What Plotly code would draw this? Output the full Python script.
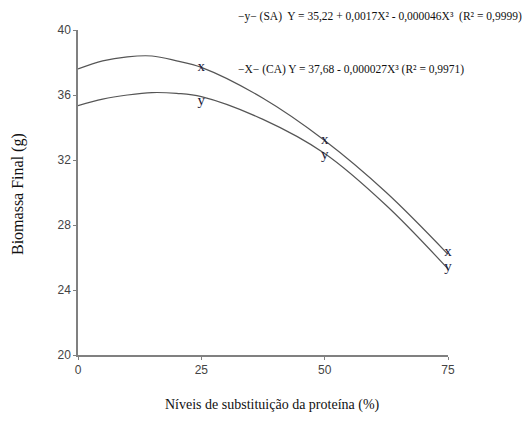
import plotly.graph_objects as go

# Fitted curves
curve_x = [0, 5, 10, 15, 20, 25, 37.5, 50, 62.5, 75]
sa_curve = [35.35, 35.75, 36.0, 36.15, 36.1, 35.9, 34.5, 32.4, 29.2, 25.3]
ca_curve = [37.6, 38.1, 38.35, 38.4, 38.1, 37.7, 35.8, 33.2, 30.0, 26.2]

# Observed points
pt_x = [25, 50, 75]
sa_pts = [35.6, 32.3, 25.4]
ca_pts = [37.7, 33.2, 26.3]

x_ticks = [0, 25, 50, 75]
y_ticks = [20, 24, 28, 32, 36, 40]

line_style = dict(color="#555555", width=1.2, shape="spline")
fig = go.Figure()
fig.add_trace(go.Scatter(x=curve_x, y=sa_curve, mode="lines", line=line_style, showlegend=False, hoverinfo="skip"))
fig.add_trace(go.Scatter(x=curve_x, y=ca_curve, mode="lines", line=line_style, showlegend=False, hoverinfo="skip"))
marker_font = dict(family="Liberation Serif, Times New Roman, serif", size=15, color="#1a1a3a")
fig.add_trace(go.Scatter(x=pt_x, y=sa_pts, mode="text", text=["y"] * 3, textposition="middle center",
                         textfont=marker_font, showlegend=False, cliponaxis=False))
fig.add_trace(go.Scatter(x=pt_x, y=ca_pts, mode="text", text=["x"] * 3, textposition="middle center",
                         textfont=marker_font, showlegend=False, cliponaxis=False))

axis_common = dict(showline=True, linecolor="#808080", linewidth=1.5, ticks="outside", ticklen=3,
                   tickcolor="#808080", showgrid=False, zeroline=False,
                   tickfont=dict(family="Liberation Sans Narrow, Liberation Sans, Arial, sans-serif", size=12, color="#444444"))
fig.update_xaxes(range=[0, 75], tickvals=x_ticks, **axis_common)
fig.update_yaxes(range=[20, 40], tickvals=y_ticks, **axis_common)

serif = "Liberation Serif, Times New Roman, serif"
fig.add_annotation(text="\u2212y\u2212 (SA)  Y = 35,22 + 0,0017X² - 0,000046X³  (R² = 0,9999)",
                   xref="paper", yref="paper", x=(236 - 78) / 370, y=(355 - 17) / 325,
                   xanchor="left", yanchor="middle", showarrow=False,
                   font=dict(family=serif, size=11.5, color="#111111"))
fig.add_annotation(text="\u2212X\u2212 (CA) Y = 37,68 - 0,000027X³ (R² = 0,9971)",
                   xref="paper", yref="paper", x=(236 - 78) / 370, y=(355 - 69) / 325,
                   xanchor="left", yanchor="middle", showarrow=False,
                   font=dict(family=serif, size=11.5, color="#111111"))
fig.add_annotation(text="Biomassa Final (g)", xref="paper", yref="paper",
                   x=(18 - 78) / 370, y=(355 - 194) / 325, textangle=-90,
                   xanchor="center", yanchor="middle", showarrow=False,
                   font=dict(family=serif, size=16, color="#111111"))
fig.add_annotation(text="Níveis de substituição da proteína (%)", xref="paper", yref="paper",
                   x=(272 - 78) / 370, y=(355 - 405) / 325,
                   xanchor="center", yanchor="middle", showarrow=False,
                   font=dict(family=serif, size=14, color="#111111"))

fig.update_layout(width=527, height=432, margin=dict(l=78, r=79, t=30, b=77),
                  paper_bgcolor="white", plot_bgcolor="white")
fig.write_html("out.html")
